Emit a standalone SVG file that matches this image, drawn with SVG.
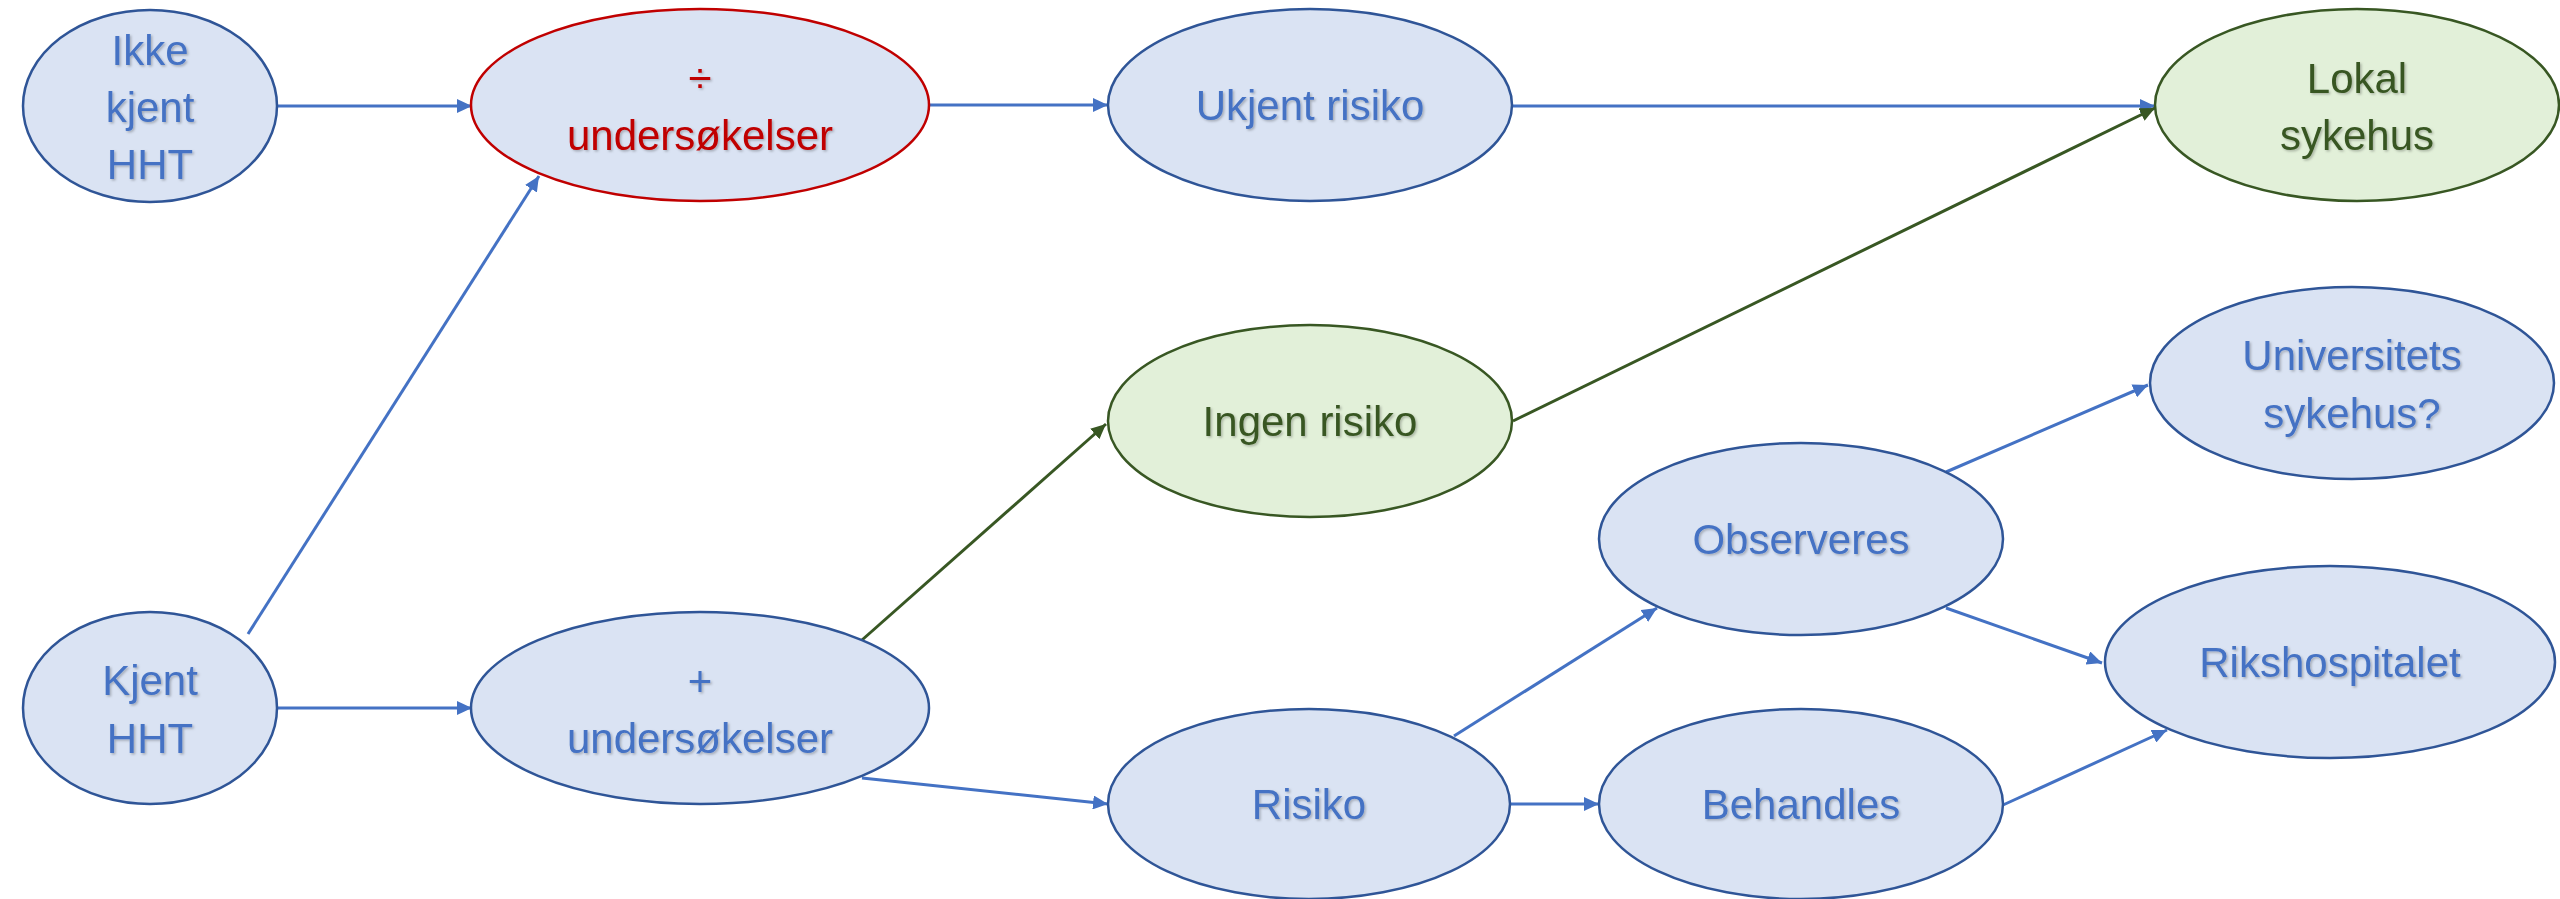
<svg xmlns="http://www.w3.org/2000/svg" width="2560" height="899" viewBox="0 0 2560 899">
  <defs>
    <marker id="arrBlue" markerUnits="userSpaceOnUse" markerWidth="16" markerHeight="14" refX="15" refY="7" orient="auto">
      <path d="M0,0 L15,7 L0,14 z" fill="#4472C4"/>
    </marker>
    <marker id="arrGreen" markerUnits="userSpaceOnUse" markerWidth="16" markerHeight="14" refX="15" refY="7" orient="auto">
      <path d="M0,0 L15,7 L0,14 z" fill="#385723"/>
    </marker>
    <filter id="shadow" x="-10%" y="-10%" width="120%" height="130%">
      <feDropShadow dx="1.5" dy="1.5" stdDeviation="1" flood-color="#000" flood-opacity="0.25"/>
    </filter>
  </defs>
  <style>
    .blue ellipse { fill: #DAE3F3; stroke: #2F5597; stroke-width: 2.5; }
    .red ellipse { fill: #DAE3F3; stroke: #C00000; stroke-width: 2.5; }
    .green ellipse { fill: #E2F0D9; stroke: #385723; stroke-width: 2.5; }
    text { font-family: "Liberation Sans", Arial, sans-serif; font-size: 42px; text-anchor: middle; filter: url(#shadow); }
    .blue text { fill: #4472C4; }
    .red text { fill: #C00000; }
    .green text { fill: #385723; }
    .cb { stroke: #4472C4; stroke-width: 3; fill: none; marker-end: url(#arrBlue); }
    .cg { stroke: #385723; stroke-width: 3; fill: none; marker-end: url(#arrGreen); }
  </style>
  <rect width="2560" height="899" fill="#FFFFFF"/>

  <g id="connectors">
    <line class="cb" x1="277" y1="106" x2="472" y2="106"/>
    <line class="cb" x1="248" y1="634" x2="539" y2="176" stroke-width="2.5"/>
    <line class="cb" x1="929" y1="105" x2="1108" y2="105"/>
    <line class="cb" x1="1512" y1="106" x2="2155" y2="106"/>
    <line class="cb" x1="277" y1="708" x2="472" y2="708"/>
    <line class="cg" x1="862" y1="640" x2="1106" y2="424"/>
    <line class="cg" x1="1513" y1="421" x2="2155" y2="108"/>
    <line class="cb" x1="862" y1="778" x2="1108" y2="804"/>
    <line class="cb" x1="1510" y1="804" x2="1599" y2="804"/>
    <line class="cb" x1="1454" y1="736" x2="1657" y2="608"/>
    <line class="cb" x1="1946" y1="472" x2="2148" y2="385"/>
    <line class="cb" x1="1946" y1="608" x2="2102" y2="663"/>
    <line class="cb" x1="2003" y1="805" x2="2167" y2="730"/>
  </g>

  <g id="ikke-kjent-hht" class="blue">
    <ellipse cx="150" cy="106" rx="127" ry="96"/>
    <text x="150" y="65">Ikke</text>
    <text x="150" y="122">kjent</text>
    <text x="150" y="179">HHT</text>
  </g>

  <g id="minus-undersokelser" class="red">
    <ellipse cx="700" cy="105" rx="229" ry="96"/>
    <text x="700" y="93">÷</text>
    <text x="700" y="150">undersøkelser</text>
  </g>

  <g id="ukjent-risiko" class="blue">
    <ellipse cx="1310" cy="105" rx="202" ry="96"/>
    <text x="1310" y="120">Ukjent risiko</text>
  </g>

  <g id="lokal-sykehus" class="green">
    <ellipse cx="2357" cy="105" rx="202" ry="96"/>
    <text x="2357" y="93">Lokal</text>
    <text x="2357" y="150">sykehus</text>
  </g>

  <g id="kjent-hht" class="blue">
    <ellipse cx="150" cy="708" rx="127" ry="96"/>
    <text x="150" y="695">Kjent</text>
    <text x="150" y="753">HHT</text>
  </g>

  <g id="pluss-undersokelser" class="blue">
    <ellipse cx="700" cy="708" rx="229" ry="96"/>
    <text x="700" y="696">+</text>
    <text x="700" y="753">undersøkelser</text>
  </g>

  <g id="ingen-risiko" class="green">
    <ellipse cx="1310" cy="421" rx="202" ry="96"/>
    <text x="1310" y="436">Ingen risiko</text>
  </g>

  <g id="observeres" class="blue">
    <ellipse cx="1801" cy="539" rx="202" ry="96"/>
    <text x="1801" y="554">Observeres</text>
  </g>

  <g id="universitets-sykehus" class="blue">
    <ellipse cx="2352" cy="383" rx="202" ry="96"/>
    <text x="2352" y="370">Universitets</text>
    <text x="2352" y="428">sykehus?</text>
  </g>

  <g id="rikshospitalet" class="blue">
    <ellipse cx="2330" cy="662" rx="225" ry="96"/>
    <text x="2330" y="677">Rikshospitalet</text>
  </g>

  <g id="risiko" class="blue">
    <ellipse cx="1309" cy="804" rx="201" ry="95"/>
    <text x="1309" y="819">Risiko</text>
  </g>

  <g id="behandles" class="blue">
    <ellipse cx="1801" cy="804" rx="202" ry="95"/>
    <text x="1801" y="819">Behandles</text>
  </g>
</svg>
